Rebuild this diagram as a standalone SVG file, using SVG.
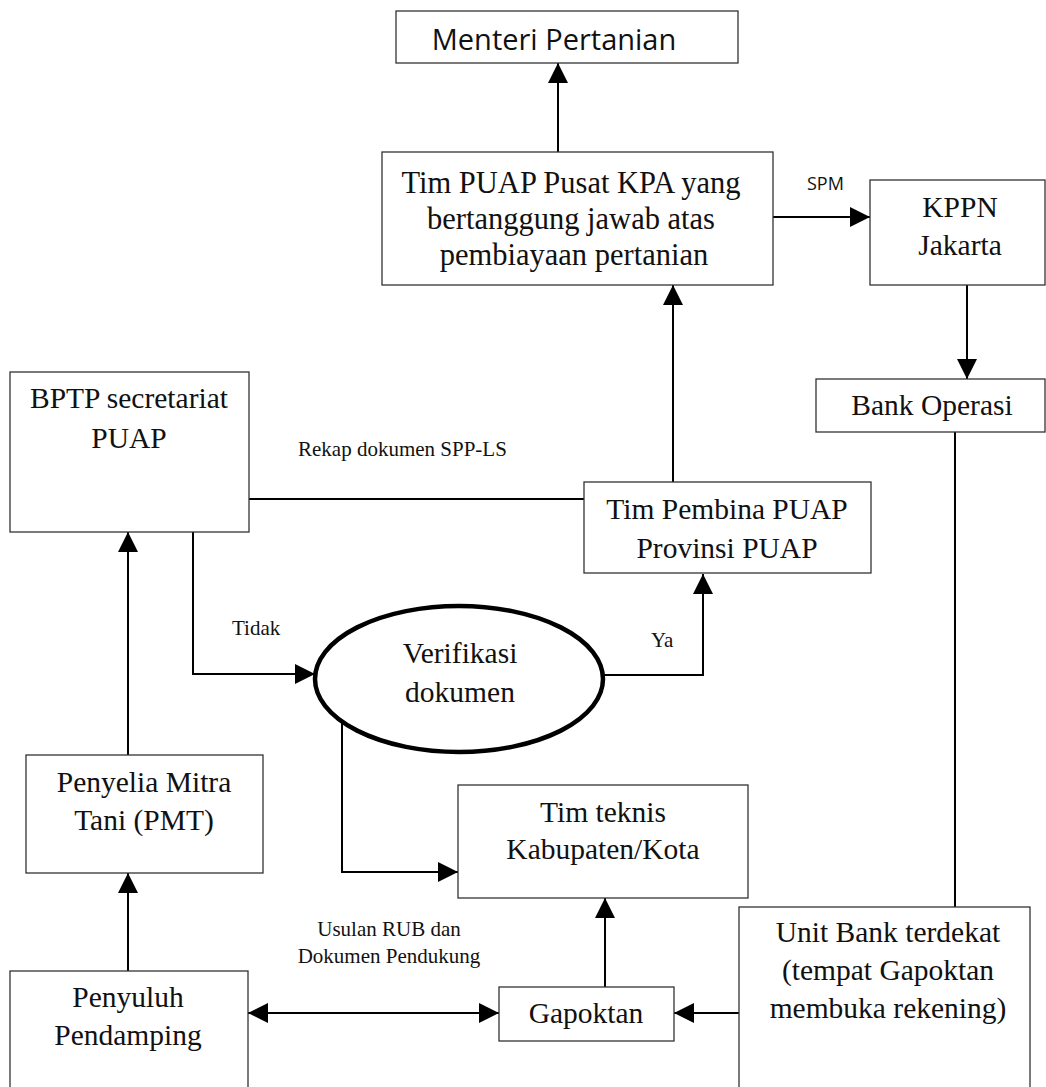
<svg xmlns="http://www.w3.org/2000/svg" width="1046" height="1087" viewBox="0 0 1046 1087">
<style>
.box{fill:#fff;stroke:#333;stroke-width:1.3}
.ell{fill:#fff;stroke:#000;stroke-width:4.5}
.t{font-family:"Liberation Serif","Times New Roman",serif;font-size:29.5px;fill:#111;text-anchor:middle}
.tl{font-size:30.5px}
.ts{font-family:"Open Sans","Liberation Sans",sans-serif;fill:#111}
.lb{font-family:"Liberation Serif","Times New Roman",serif;font-size:21px;fill:#111}
.c{fill:none;stroke:#000;stroke-width:2}
.a{marker-end:url(#ah)}
</style>
<defs>
<marker id="ah" markerUnits="userSpaceOnUse" markerWidth="22" markerHeight="22" refX="20" refY="10" orient="auto">
<path d="M0,0 L20,10 L0,20 Z" fill="#000"/>
</marker>
<marker id="as" markerUnits="userSpaceOnUse" markerWidth="22" markerHeight="22" refX="0" refY="10" orient="auto">
<path d="M20,0 L0,10 L20,20 Z" fill="#000"/>
</marker>
</defs>
<g id="connectors">
<path class="c a" d="M558,152 V63"/>
<path class="c a" d="M773,217 H870"/>
<path class="c a" d="M967,285 V379"/>
<path class="c" d="M955,432 V907"/>
<path class="c a" d="M673,482 V285"/>
<path class="c" d="M249,499 H584"/>
<path class="c a" d="M193,532 V674 H315"/>
<path class="c a" d="M603,675 H703 V574"/>
<path class="c a" d="M342,722 V872 H458"/>
<path class="c a" d="M128,755 V532"/>
<path class="c a" d="M128,971 V873"/>
<path class="c a" d="M248,1013 H499" marker-start="url(#as)"/>
<path class="c a" d="M605,987 V898"/>
<path class="c a" d="M740,1013 H674"/>
</g>
<g id="n-menteri">
<rect class="box" x="396" y="11" width="342" height="52"/>
<text class="ts" x="554" y="50" font-size="29" text-anchor="middle">Menteri Pertanian</text>
</g>
<g id="n-timpuap">
<rect class="box" x="382" y="152" width="391" height="133"/>
<text class="t tl" x="571" y="193">Tim PUAP Pusat KPA yang</text>
<text class="t tl" x="571" y="229">bertanggung jawab atas</text>
<text class="t tl" x="574" y="265">pembiayaan pertanian</text>
</g>
<g id="n-kppn">
<rect class="box" x="870" y="180" width="175" height="105"/>
<text class="t" x="960" y="217">KPPN</text>
<text class="t" x="960" y="255">Jakarta</text>
</g>
<g id="n-bankop">
<rect class="box" x="816" y="379" width="229" height="53"/>
<text class="t" x="932" y="415">Bank Operasi</text>
</g>
<g id="n-bptp">
<rect class="box" x="10" y="372" width="239" height="160"/>
<text class="t" x="129" y="408">BPTP secretariat</text>
<text class="t" x="129" y="448">PUAP</text>
</g>
<g id="n-pembina">
<rect class="box" x="584" y="482" width="287" height="91"/>
<text class="t" x="727" y="519">Tim Pembina PUAP</text>
<text class="t" x="727" y="558">Provinsi PUAP</text>
</g>
<g id="n-verifikasi">
<ellipse class="ell" cx="459" cy="679" rx="144" ry="73"/>
<text class="t" x="460" y="663">Verifikasi</text>
<text class="t" x="460" y="702">dokumen</text>
</g>
<g id="n-timteknis">
<rect class="box" x="458" y="785" width="290" height="113"/>
<text class="t" x="603" y="822">Tim teknis</text>
<text class="t" x="603" y="859">Kabupaten/Kota</text>
</g>
<g id="n-penyelia">
<rect class="box" x="26" y="755" width="237" height="118"/>
<text class="t" x="144" y="792">Penyelia Mitra</text>
<text class="t" x="144" y="830">Tani (PMT)</text>
</g>
<g id="n-penyuluh">
<rect class="box" x="10" y="971" width="238" height="130"/>
<text class="t" x="128" y="1007">Penyuluh</text>
<text class="t" x="128" y="1045">Pendamping</text>
</g>
<g id="n-gapoktan">
<rect class="box" x="499" y="987" width="175" height="54"/>
<text class="t" x="586" y="1023">Gapoktan</text>
</g>
<g id="n-unitbank">
<rect class="box" x="739" y="907" width="291" height="195"/>
<text class="t" x="888" y="942">Unit Bank terdekat</text>
<text class="t" x="888" y="980">(tempat Gapoktan</text>
<text class="t" x="888" y="1018">membuka rekening)</text>
</g>
<g id="labels">
<text class="ts" x="807" y="190" font-size="18">SPM</text>
<text class="lb" x="298" y="456">Rekap dokumen SPP-LS</text>
<text class="lb" x="232" y="635">Tidak</text>
<text class="lb" x="651" y="647">Ya</text>
<text class="lb" x="389" y="936" text-anchor="middle">Usulan RUB dan</text>
<text class="lb" x="389" y="963" text-anchor="middle">Dokumen Pendukung</text>
</g>
</svg>
